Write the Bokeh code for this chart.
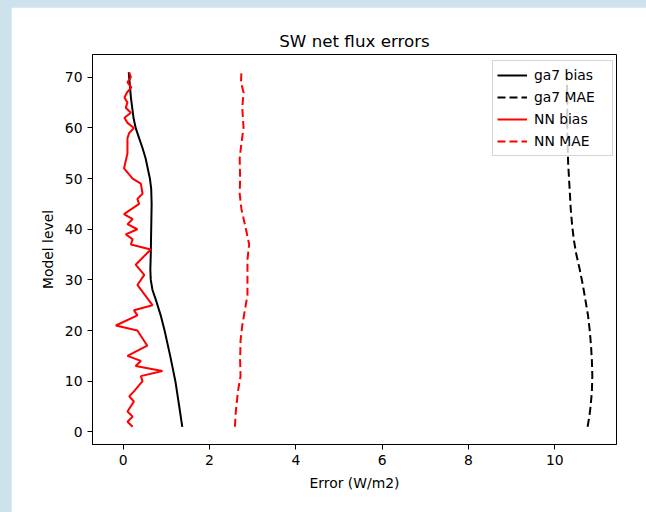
from bokeh.plotting import figure
from bokeh.models import Range1d, FixedTicker, Legend, LegendItem, GlobalInlineStyleSheet
from bokeh.embed import file_html
from bokeh.resources import INLINE

# ---- data ----
ga7_bias_levels = [1, 5, 10, 15, 20, 23, 26, 28, 30, 32, 35, 40, 45, 48, 50, 52, 54, 56, 58, 60, 62, 64, 66, 68, 70, 71]
ga7_bias = [1.37, 1.30, 1.21, 1.09, 0.96, 0.87, 0.76, 0.68, 0.64, 0.63, 0.64, 0.65, 0.66, 0.65, 0.62, 0.57,
            0.52, 0.45, 0.37, 0.29, 0.24, 0.21, 0.18, 0.16, 0.14, 0.13]

ga7_mae_levels = [1, 3, 5, 8, 11, 14, 17, 20, 23, 26, 29, 32, 35, 38, 41, 44, 47, 50, 53, 56, 60, 65, 71]
ga7_mae = [10.76, 10.80, 10.83, 10.86, 10.87, 10.86, 10.84, 10.81, 10.77, 10.71, 10.65, 10.58, 10.50,
           10.44, 10.40, 10.37, 10.35, 10.33, 10.31, 10.30, 10.29, 10.29, 10.28]

nn_bias_levels = [1, 2, 3, 4, 6, 7, 8, 10, 11, 12, 13, 14, 15, 17, 20, 21, 23, 24, 25, 29,
                  31, 33, 36, 37, 38, 39, 40, 41, 42, 43, 45, 46, 47, 49, 50, 52, 55, 58, 59, 60,
                  61, 62, 63, 64, 65, 66, 67, 68, 69, 70, 71]
nn_bias = [0.22, 0.10, 0.22, 0.10, 0.25, 0.14, 0.25, 0.45, 0.41, 0.91, 0.29, 0.41, 0.10, 0.56, 0.33, -0.17, 0.33, 0.25, 0.68, 0.33,
           0.49, 0.29, 0.64, 0.18, 0.22, 0.06, 0.33, 0.10, 0.22, 0.02, 0.37, 0.33, 0.45, 0.41, 0.22, 0.02, 0.10, 0.10, 0.14, 0.25,
           0.10, 0.03, 0.18, 0.06, 0.10, 0.03, 0.09, 0.19, 0.10, 0.18, 0.14]

nn_mae_levels = [1, 4, 8, 11, 14, 18, 21, 24, 27, 31, 34, 37, 41, 44, 47, 50, 54, 57, 60, 64, 67, 69, 71]
nn_mae = [2.59, 2.61, 2.66, 2.72, 2.71, 2.72, 2.76, 2.82, 2.88, 2.88, 2.88, 2.92, 2.82, 2.74, 2.70,
          2.71, 2.70, 2.74, 2.79, 2.76, 2.79, 2.73, 2.74]

x_ticks = [0, 2, 4, 6, 8, 10]
y_ticks = [0, 10, 20, 30, 40, 50, 60, 70]
labels = ["ga7 bias", "ga7 MAE", "NN bias", "NN MAE"]

FONT = "DejaVu Sans"

p = figure(width=635, height=505, output_backend="svg", toolbar_location=None,
           x_range=Range1d(-0.71, 11.43), y_range=Range1d(-2.5, 74.5),
           min_border_left=81, min_border_right=30, min_border_top=47, min_border_bottom=68,
           title="SW net flux errors")
p.stylesheets = [GlobalInlineStyleSheet(
    css="html, body { background-color: #cde2ec; overflow: hidden; margin: 0; } "
        "body { padding: 7px 0 0 11px; box-sizing: border-box; }")]
p.background_fill_color = "white"
p.border_fill_color = "white"
p.grid.visible = False
p.outline_line_color = "black"
p.outline_line_width = 1

p.title.text_font = FONT
p.title.text_font_size = "16.7px"
p.title.text_font_style = "normal"
p.title.text_color = "black"
p.title.align = "center"
p.title.standoff = 7

for ax in (p.xaxis[0], p.yaxis[0]):
    ax.axis_line_color = "black"
    ax.axis_line_width = 1
    ax.major_tick_line_color = "black"
    ax.major_tick_line_width = 1
    ax.major_tick_out = 5
    ax.major_tick_in = 0
    ax.minor_tick_line_color = None
    ax.major_label_text_font = FONT
    ax.major_label_text_font_size = "13.9px"
    ax.major_label_text_color = "black"
    ax.major_label_standoff = 5
    ax.axis_label_text_font = FONT
    ax.axis_label_text_font_size = "13.9px"
    ax.axis_label_text_font_style = "normal"
    ax.axis_label_text_color = "black"

p.xaxis.ticker = FixedTicker(ticks=x_ticks)
p.yaxis.ticker = FixedTicker(ticks=y_ticks)
p.xaxis.axis_label = "Error (W/m2)"
p.yaxis.axis_label = "Model level"
p.xaxis.axis_label_standoff = 7
p.yaxis.axis_label_standoff = 6

DASH = "8 4"
r1 = p.line(ga7_bias, ga7_bias_levels, line_color="black", line_width=2)
r2 = p.line(ga7_mae, ga7_mae_levels, line_color="black", line_width=2, line_dash=DASH)
r3 = p.line(nn_bias, nn_bias_levels, line_color="red", line_width=2)
r4 = p.line(nn_mae, nn_mae_levels, line_color="red", line_width=2, line_dash=DASH)

legend = Legend(items=[LegendItem(label=labels[0], renderers=[r1]),
                       LegendItem(label=labels[1], renderers=[r2]),
                       LegendItem(label=labels[2], renderers=[r3]),
                       LegendItem(label=labels[3], renderers=[r4])],
                location=(400, 288))
legend.label_text_font = FONT
legend.label_text_font_size = "13.9px"
legend.label_text_color = "black"
legend.padding = 4
legend.spacing = 2
legend.margin = 0
legend.label_height = 20
legend.glyph_height = 20
legend.glyph_width = 30
legend.label_width = 74
legend.label_standoff = 7
legend.border_line_color = "#cccccc"
legend.border_line_alpha = 0.8
legend.border_line_width = 1
legend.background_fill_color = "white"
legend.background_fill_alpha = 0.8
p.add_layout(legend)

open("out.html", "w").write(file_html(p, INLINE))
